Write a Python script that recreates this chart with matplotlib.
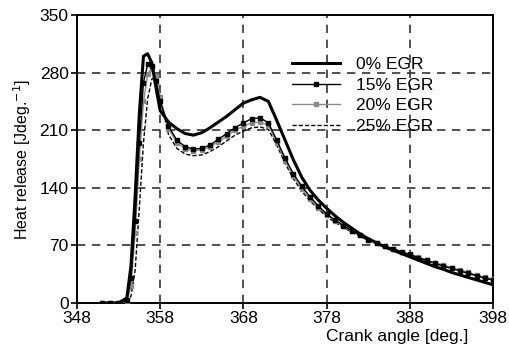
import numpy as np
import matplotlib
matplotlib.use('Agg')
import matplotlib.pyplot as plt

plt.rcParams['font.family'] = ['Liberation Sans', 'DejaVu Sans']

# Crank angle [deg.] shared by all series
crank = [351, 352, 353, 354, 354.5, 355, 355.5, 356, 356.5, 357, 357.5, 358,
         359, 360, 361, 362, 363, 364, 365, 366, 367, 368, 369, 370, 371, 372,
         373, 374, 375, 376, 377, 378, 379, 380, 381, 382, 383, 384, 385, 386,
         387, 388, 389, 390, 391, 392, 393, 394, 395, 396, 397, 398]

# Heat release [J/deg]
egr0 = [0, 0, 0, 6, 45, 130, 230, 300, 303, 292, 262, 234,
        220, 212, 206, 204, 207, 213, 220, 227, 235, 243, 247, 250, 245, 222,
        198, 174, 153, 137, 125, 115, 106, 98, 91, 84, 78, 73, 68, 64,
        60, 56, 52, 48, 44, 41, 37, 34, 31, 28, 25, 22]
egr15 = [0, 0, 0, 3, 30, 100, 195, 268, 290, 288, 270, 245,
         215, 198, 190, 187, 188, 192, 199, 206, 213, 219, 224, 225, 219, 198,
         176, 157, 142, 129, 118, 108, 101, 94, 88, 82, 77, 73, 69, 66,
         62, 59, 55, 52, 48, 45, 42, 39, 36, 33, 30, 28]
egr20 = [0, 0, 0, 2, 20, 85, 175, 245, 278, 285, 276, 250,
         212, 195, 187, 185, 186, 190, 196, 203, 210, 215, 219, 220, 216, 195,
         173, 154, 139, 126, 116, 107, 100, 93, 87, 82, 77, 73, 69, 66,
         62, 59, 56, 52, 49, 46, 43, 40, 37, 34, 31, 29]
egr25 = [0, 0, 0, 0, 8, 40, 115, 195, 248, 272, 276, 250,
         205, 188, 181, 179, 180, 184, 190, 197, 204, 209, 213, 214, 211, 192,
         170, 151, 136, 124, 114, 105, 98, 92, 86, 81, 76, 72, 68, 65,
         61, 58, 54, 51, 48, 45, 42, 39, 36, 33, 30, 28]

labels = ['0% EGR', '15% EGR', '20% EGR', '25% EGR']
xticks = [348, 358, 368, 378, 388, 398]
yticks = [0, 70, 140, 210, 280, 350]

fig = plt.figure(figsize=(5.09, 3.51), dpi=100)
ax = fig.add_axes([0.151, 0.137, 0.818, 0.82])

ax.plot(crank, egr25, color='black', lw=1.0, ls=(0, (3, 1.5)), label=labels[3], zorder=3)
ax.plot(crank, egr20, color='#8a8a8a', lw=1.0, marker='s', ms=3.2, label=labels[2], zorder=4)
ax.plot(crank, egr15, color='black', lw=1.0, marker='s', ms=3.2, label=labels[1], zorder=5)
ax.plot(crank, egr0, color='black', lw=2.2, label=labels[0], zorder=6)

ax.set_xlim(348, 398)
ax.set_ylim(0, 350)
ax.set_xticks(xticks)
ax.set_yticks(yticks)
ax.tick_params(labelsize=12.5, direction='out', length=4, width=1.2, pad=2)
ax.grid(True, color='#333333', ls=(0, (5, 4)), lw=1.2)
for s in ax.spines.values():
    s.set_linewidth(1.4)

ax.set_ylabel('Heat release [Jdeg.$^{-1}$]', fontsize=11.5, labelpad=5)
ax.set_xlabel('Crank angle [deg.]', fontsize=12.5)
ax.xaxis.set_label_coords(0.77, -0.09)

h, l = ax.get_legend_handles_labels()
order = [3, 2, 1, 0]
ax.legend([h[i] for i in order], [l[i] for i in order], frameon=False,
          loc='upper left', bbox_to_anchor=(0.495, 0.885), fontsize=12.5,
          handlelength=2.8, handletextpad=0.9, labelspacing=0.32, borderpad=0,
          numpoints=1)

fig.savefig('out.png', dpi=100)
